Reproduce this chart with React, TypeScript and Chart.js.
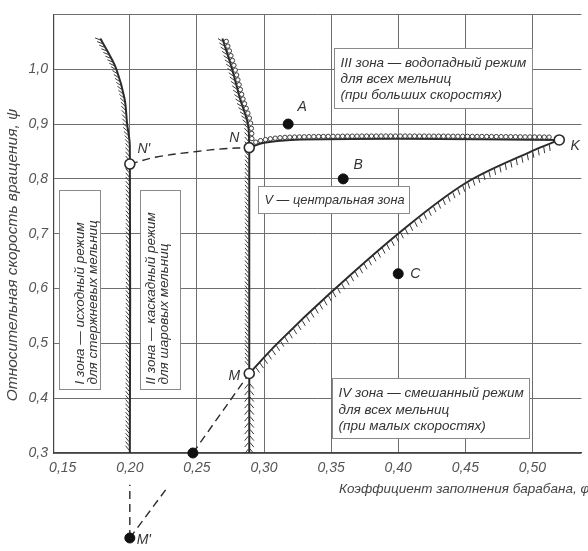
import React, { useEffect, useRef } from "react";
import { Chart, registerables } from "chart.js";
Chart.register(...registerables);

// ---------- axis ticks ----------
const X_TICKS = [0.15, 0.2, 0.25, 0.3, 0.35, 0.4, 0.45, 0.5];
const Y_TICKS = [0.3, 0.4, 0.5, 0.6, 0.7, 0.8, 0.9, 1.0, 1.1];

// ---------- boundary I / II ----------
const zone12X = [0.2, 0.2, 0.198, 0.196, 0.19, 0.184, 0.178];
const zone12Y = [0.3, 0.86, 0.9, 0.947, 1.0, 1.03, 1.056];

// ---------- boundary II / III,V (three parts) ----------
const zone2LowX = [0.289, 0.289];
const zone2LowY = [0.3, 0.445];
const zone2MidX = [0.289, 0.289];
const zone2MidY = [0.445, 0.857];
const zone2TopX = [0.289, 0.288, 0.282, 0.276, 0.269];
const zone2TopY = [0.857, 0.9, 0.947, 1.002, 1.056];

// ---------- boundary N–K ----------
const edgeNKX = [0.289, 0.3, 0.32, 0.4, 0.52];
const edgeNKY = [0.857, 0.866, 0.871, 0.873, 0.871];

// ---------- boundary M–K ----------
const edgeMKX = [0.289, 0.31, 0.35, 0.4, 0.45, 0.5, 0.52];
const edgeMKY = [0.445, 0.5, 0.593, 0.7, 0.792, 0.851, 0.871];

// ---------- dashed construction lines ----------
const dashNNX = [0.2, 0.22, 0.25, 0.27, 0.289];
const dashNNY = [0.827, 0.84, 0.85, 0.855, 0.857];
const dashBaseMX = [0.247, 0.289];
const dashBaseMY = [0.3, 0.445];
const dashMpDiagX = [0.2, 0.228];
const dashMpDiagY = [0.145, 0.237];
const dashMpVertX = [0.2, 0.2];
const dashMpVertY = [0.145, 0.242];

// ---------- points ----------
const solidNames = ["A", "B", "C"];
const solidX = [0.318, 0.359, 0.4];
const solidY = [0.9, 0.8, 0.627];
const baseNames = ["", "M'"];
const baseX = [0.247, 0.2];
const baseY = [0.3, 0.145];
const openNames = ["N'", "N", "M", "K"];
const openX = [0.2, 0.289, 0.289, 0.52];
const openY = [0.827, 0.857, 0.445, 0.871];

// ---------- zone texts ----------
const zoneI = ["I зона — исходный режим", "для стержневых мельниц"];
const zoneII = ["II зона — каскадный режим", "для шаровых мельниц"];
const zoneIII = ["III зона — водопадный режим", "для всех мельниц", "(при больших скоростях)"];
const zoneIV = ["IV зона — смешанный режим", "для всех мельниц", "(при малых скоростях)"];
const zoneV = ["V — центральная зона"];

const X_TITLE = "Коэффициент заполнения барабана, φ";
const Y_TITLE = "Относительная скорость вращения, ψ";

// ---------- styles / placement ----------
const FONT = "'Liberation Sans', Arial, Helvetica, sans-serif";
const INK = "#2a2a2a";
const LABEL_OFFSETS: Record<string, [number, number]> = {
  A: [14, -17],
  B: [15, -14],
  C: [17, 0],
  "N'": [14, -15],
  N: [-15, -10],
  M: [-15, 3],
  K: [16, 6],
  "M'": [14, 2],
};
const BOXES = [
  { lines: zoneI, x: 0.1472, y: 0.78, w: 41, h: 199, vertical: true, offs: [21, 34], size: 13.5 },
  { lines: zoneII, x: 0.2077, y: 0.78, w: 40, h: 199, vertical: true, offs: [11, 24], size: 13.5 },
  { lines: zoneV, x: 0.2958, y: 0.7873, w: 151, h: 27, vertical: false, offs: [14], size: 12.8 },
  { lines: zoneIII, x: 0.3518, y: 1.0382, w: 198, h: 60, vertical: false, offs: [15, 31, 47], size: 13.5 },
  { lines: zoneIV, x: 0.3503, y: 0.4364, w: 197, h: 60, vertical: false, offs: [15, 31.5, 48], size: 13.5 },
];

const xy = (xs: number[], ys: number[]) => xs.map((x, i) => ({ x, y: ys[i] }));

function sampleCurve(els: any[]) {
  const out: { x: number; y: number }[] = [];
  for (let i = 0; i < els.length - 1; i++) {
    const a = els[i], b = els[i + 1];
    const c1x = a.cp2x ?? a.x, c1y = a.cp2y ?? a.y;
    const c2x = b.cp1x ?? b.x, c2y = b.cp1y ?? b.y;
    const n = 40;
    for (let k = 0; k < n; k++) {
      const t = k / n, u = 1 - t;
      out.push({
        x: u * u * u * a.x + 3 * u * u * t * c1x + 3 * u * t * t * c2x + t * t * t * b.x,
        y: u * u * u * a.y + 3 * u * u * t * c1y + 3 * u * t * t * c2y + t * t * t * b.y,
      });
    }
  }
  const l = els[els.length - 1];
  out.push({ x: l.x, y: l.y });
  return out;
}

function walkPath(pts: { x: number; y: number }[], spacing: number, start: number, end: number,
  cb: (x: number, y: number, tx: number, ty: number) => void) {
  let total = 0;
  for (let i = 0; i < pts.length - 1; i++) total += Math.hypot(pts[i + 1].x - pts[i].x, pts[i + 1].y - pts[i].y);
  let next = start;
  let travelled = 0;
  for (let i = 0; i < pts.length - 1; i++) {
    const a = pts[i], b = pts[i + 1];
    const dx = b.x - a.x, dy = b.y - a.y;
    const L = Math.hypot(dx, dy);
    if (L < 1e-6) continue;
    while (next <= travelled + L && next <= total - end) {
      const f = (next - travelled) / L;
      cb(a.x + dx * f, a.y + dy * f, dx / L, dy / L);
      next += spacing;
    }
    travelled += L;
  }
}

const decorPlugin = {
  id: "decor",
  beforeDraw(chart: any) {
    const ctx = chart.ctx;
    ctx.save();
    ctx.fillStyle = "#ffffff";
    ctx.fillRect(0, 0, chart.width, chart.height);
    ctx.restore();
  },
  beforeDatasetsDraw(chart: any) {
    const ctx = chart.ctx;
    const xs = chart.scales.x, ys = chart.scales.y;
    ctx.save();
    for (const b of BOXES) {
      const left = Math.round(xs.getPixelForValue(b.x)) + 0.5;
      const top = Math.round(ys.getPixelForValue(b.y)) + 0.5;
      ctx.fillStyle = "#ffffff";
      ctx.fillRect(left, top, b.w, b.h);
      ctx.strokeStyle = "#8a8a8a";
      ctx.lineWidth = 1;
      ctx.strokeRect(left, top, b.w, b.h);
      ctx.fillStyle = "#333";
      ctx.font = `italic ${b.size}px ${FONT}`;
      ctx.textBaseline = "middle";
      ctx.textAlign = "left";
      if (b.vertical) {
        ctx.save();
        ctx.translate(left, top + b.h);
        ctx.rotate(-Math.PI / 2);
        b.lines.forEach((ln, i) => ctx.fillText(ln, 5, b.offs[i]));
        ctx.restore();
      } else {
        b.lines.forEach((ln, i) => ctx.fillText(ln, left + 6, top + b.offs[i]));
      }
    }
    ctx.restore();
  },
  afterDatasetDraw(chart: any, args: any) {
    const ds = chart.data.datasets[args.index];
    const ctx = chart.ctx;
    const area = chart.chartArea;
    // points lying outside the plot area (Chart.js skips them) are drawn here
    if (ds.names) {
      ctx.save();
      args.meta.data.forEach((el: any) => {
        if (el.y > area.bottom + 1 || el.y < area.top - 1 || el.x < area.left - 1 || el.x > area.right + 1) {
          ctx.beginPath();
          ctx.arc(el.x, el.y, ds.pointRadius, 0, Math.PI * 2);
          ctx.fillStyle = ds.pointBackgroundColor;
          ctx.fill();
          ctx.lineWidth = ds.pointBorderWidth;
          ctx.strokeStyle = ds.pointBorderColor;
          ctx.stroke();
        }
      });
      ctx.restore();
    }
    const deco = ds.deco;
    if (!deco) return;
    const pts = sampleCurve(args.meta.data);
    ctx.save();
    if (deco.hatch) {
      const h = deco.hatch;
      const a = (h.angle * Math.PI) / 180;
      ctx.beginPath();
      ctx.strokeStyle = "#3a3a3a";
      ctx.lineWidth = 1;
      walkPath(pts, h.spacing, h.start, h.end ?? 0, (x, y, tx, ty) => {
        for (const side of h.sides) {
          const nx = side === "left" ? ty : -ty;
          const ny = side === "left" ? -tx : tx;
          const dx = nx * Math.cos(a) + tx * Math.sin(a);
          const dy = ny * Math.cos(a) + ty * Math.sin(a);
          ctx.moveTo(x + nx * 0.8, y + ny * 0.8);
          ctx.lineTo(x + dx * h.len, y + dy * h.len);
        }
      });
      ctx.stroke();
    }
    if (deco.beads) {
      const bd = deco.beads;
      ctx.strokeStyle = INK;
      ctx.lineWidth = 0.9;
      ctx.fillStyle = "#ffffff";
      walkPath(pts, bd.spacing, bd.start, bd.end ?? 0, (x, y, tx, ty) => {
        const nx = bd.side === "left" ? ty : -ty;
        const ny = bd.side === "left" ? -tx : tx;
        ctx.beginPath();
        ctx.arc(x + nx * (bd.r + 0.6), y + ny * (bd.r + 0.6), bd.r, 0, Math.PI * 2);
        ctx.fill();
        ctx.stroke();
      });
    }
    ctx.restore();
  },
  afterDatasetsDraw(chart: any) {
    const ctx = chart.ctx;
    ctx.save();
    ctx.fillStyle = "#333";
    ctx.font = `italic 14px ${FONT}`;
    ctx.textAlign = "center";
    ctx.textBaseline = "middle";
    chart.data.datasets.forEach((ds: any, i: number) => {
      if (!ds.names) return;
      const meta = chart.getDatasetMeta(i);
      meta.data.forEach((el: any, j: number) => {
        const name = ds.names[j];
        if (!name) return;
        const off = LABEL_OFFSETS[name] || [10, -10];
        ctx.fillText(name, el.x + off[0], el.y + off[1]);
      });
    });
    // axis titles
    ctx.fillStyle = "#444";
    ctx.font = `italic 13.5px ${FONT}`;
    ctx.textAlign = "left";
    ctx.fillText(X_TITLE, 339, 489);
    ctx.save();
    ctx.translate(13, 255);
    ctx.rotate(-Math.PI / 2);
    ctx.textAlign = "center";
    ctx.font = `italic 15.5px ${FONT}`;
    ctx.fillText(Y_TITLE, 0, 0);
    ctx.restore();
    ctx.restore();
  },
};

function lineDs(data: any[], extra: any = {}) {
  return {
    data,
    showLine: true,
    borderColor: INK,
    borderWidth: 2,
    pointRadius: 0,
    tension: 0.35,
    fill: false,
    clip: false,
    ...extra,
  };
}

export default function App() {
  const ref = useRef<HTMLCanvasElement>(null);
  useEffect(() => {
    if (!ref.current) return;
    const tickFont = { family: FONT, size: 14, style: "italic" as const };
    const chart = new Chart(ref.current, {
      type: "scatter",
      data: {
        datasets: [
          {
            data: xy(openX, openY),
            names: openNames,
            showLine: false,
            pointRadius: 5,
            pointBackgroundColor: "#ffffff",
            pointBorderColor: INK,
            pointBorderWidth: 1.6,
            clip: false,
          } as any,
          {
            data: xy(solidX, solidY),
            names: solidNames,
            showLine: false,
            pointRadius: 5,
            pointBackgroundColor: "#111",
            pointBorderColor: "#111",
            pointBorderWidth: 1,
            clip: false,
          } as any,
          {
            data: xy(baseX, baseY),
            names: baseNames,
            showLine: false,
            pointRadius: 5,
            pointBackgroundColor: "#111",
            pointBorderColor: "#111",
            pointBorderWidth: 1,
            clip: false,
          } as any,
          lineDs(xy(zone12X, zone12Y), {
            deco: { hatch: { sides: ["left"], len: 6, spacing: 4.2, angle: 45, start: 3 } },
          }),
          lineDs(xy(zone2LowX, zone2LowY), {
            tension: 0,
            deco: { hatch: { sides: ["left", "right"], len: 6.5, spacing: 6.5, angle: -45, start: 4, end: 6 } },
          }),
          lineDs(xy(zone2MidX, zone2MidY), {
            tension: 0,
            deco: { hatch: { sides: ["left"], len: 6, spacing: 4.2, angle: 45, start: 8, end: 4 } },
          }),
          lineDs(xy(zone2TopX, zone2TopY), {
            deco: {
              hatch: { sides: ["left"], len: 6, spacing: 4.5, angle: 45, start: 2 },
              beads: { side: "right", r: 2.2, spacing: 5, start: 9, end: 2 },
            },
          }),
          lineDs(xy(edgeNKX, edgeNKY), {
            deco: { beads: { side: "left", r: 2.2, spacing: 4.8, start: 8, end: 7 } },
          }),
          lineDs(xy(edgeMKX, edgeMKY), {
            deco: { hatch: { sides: ["right"], len: 7, spacing: 6, angle: -12, start: 9, end: 6 } },
          }),
          lineDs(xy(dashNNX, dashNNY), { borderWidth: 1.4, borderDash: [8, 5] }),
          lineDs(xy(dashBaseMX, dashBaseMY), { borderWidth: 1.4, borderDash: [8, 5], tension: 0 }),
          lineDs(xy(dashMpDiagX, dashMpDiagY), { borderWidth: 1.4, borderDash: [8, 5], tension: 0 }),
          lineDs(xy(dashMpVertX, dashMpVertY), { borderWidth: 1.4, borderDash: [8, 5], tension: 0 }),
        ] as any,
      },
      options: {
        responsive: false,
        animation: false,
        devicePixelRatio: 1,
        events: [],
        layout: { padding: { top: 13, left: 0, right: 0, bottom: 0 } },
        plugins: { legend: { display: false }, tooltip: { enabled: false } },
        scales: {
          x: {
            type: "linear",
            min: 0.1435,
            max: 0.5365,
            afterBuildTicks: (s: any) => {
              s.ticks = X_TICKS.map((v) => ({ value: v }));
            },
            afterFit: (s: any) => {
              s.height = 98;
            },
            ticks: {
              autoSkip: false,
              maxRotation: 0,
              padding: 7,
              color: "#555",
              font: tickFont,
              callback: (v: any) => Number(v).toFixed(2).replace(".", ","),
            },
            grid: {
              drawTicks: false,
              lineWidth: 1,
              color: (c: any) =>
                c.tick && Math.abs(c.tick.value - 0.15) < 1e-6 ? "rgba(0,0,0,0)" : "#6e6e6e",
            },
            border: { color: "#444", width: 1.2 },
          },
          y: {
            type: "linear",
            min: 0.3,
            max: 1.1,
            afterBuildTicks: (s: any) => {
              s.ticks = Y_TICKS.map((v) => ({ value: v }));
            },
            afterFit: (s: any) => {
              s.width = 54;
            },
            ticks: {
              autoSkip: false,
              padding: 6,
              color: "#555",
              font: tickFont,
              callback: (v: any) => (Number(v) > 1.05 ? "" : Number(v).toFixed(1).replace(".", ",")),
            },
            grid: { drawTicks: false, lineWidth: 1, color: "#6e6e6e" },
            border: { color: "#444", width: 1.2 },
          },
        },
      } as any,
      plugins: [decorPlugin as any],
    });
    return () => chart.destroy();
  }, []);
  return (
    <div style={{ position: "fixed", left: 0, top: 0, width: 588, height: 551, background: "#fff" }}>
      <canvas ref={ref} width={588} height={551} style={{ display: "block", width: 588, height: 551 }} />
    </div>
  );
}
